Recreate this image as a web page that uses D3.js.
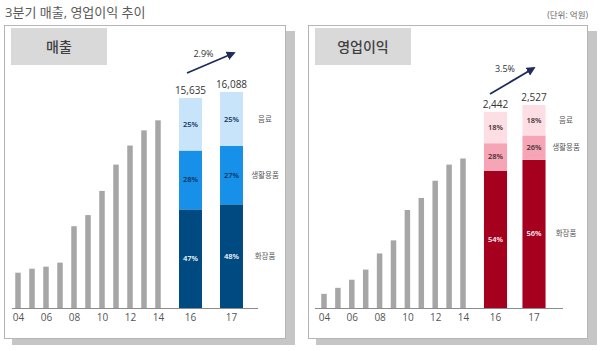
<!DOCTYPE html>
<html lang="ko">
<head>
<meta charset="utf-8">
<title>3분기 매출, 영업이익 추이</title>
<script src="https://d3js.org/d3.v7.min.js"></script>
<style>
  body { margin: 0; background: #fff; }
  text { font-family: "Open Sans", "Noto Sans CJK KR", sans-serif; }
</style>
</head>
<body>
<script>
// data (억원)
var histYears = [4, 5, 6, 7, 8, 9, 10, 11, 12, 13, 14]
var salesHist = [2630, 2930, 3080, 3380, 6090, 6920, 8720, 10680, 12100, 13230, 13980]
var opHist = [176, 251, 352, 478, 679, 842, 1220, 1370, 1584, 1785, 1861]

var recentYears = ["16", "17"]
var salesTotal = [15635, 16088]
var opTotal = [2442, 2527]

// stack order: bottom -> top
var segNames = ["화장품", "생활용품", "음료"]
var salesPct = [[47, 28, 25], [48, 27, 25]]
var opPct = [[54, 28, 18], [56, 26, 18]]
// share of bar height as drawn in the original (the 영업이익 bars are not drawn to their labels)
var salesShown = [[47, 28, 25], [48, 27, 25]]
var opShown = [[70, 14, 16], [73, 12, 15]]

var growth = ["2.9%", "3.5%"]
var axisTicks = [4, 6, 8, 10, 12, 14]

var w = 600, h = 351
var base = 308

var svg = d3.select("body").append("svg")
  .attr("width", w).attr("height", h)

svg.append("defs").append("marker")
  .attr("id", "arrowHead")
  .attr("viewBox", "0 0 10 10")
  .attr("refX", 8).attr("refY", 5)
  .attr("markerWidth", 5).attr("markerHeight", 5)
  .attr("orient", "auto")
  .append("path")
  .attr("d", "M0,0 L10,5 L0,10 z")
  .attr("fill", "#1f2c5c")

// title
svg.append("text")
  .attr("x", 5).attr("y", 17)
  .attr("font-size", 13)
  .attr("fill", "#595959")
  .text("3분기 매출, 영업이익 추이")

svg.append("text")
  .attr("x", 588).attr("y", 18)
  .attr("text-anchor", "end")
  .attr("font-size", 8.5)
  .attr("fill", "#666")
  .text("(단위: 억원)")

var panels = [
  { name: "매출", x0: 4, x1: 285, hist: salesHist, total: salesTotal, pct: salesPct, shown: salesShown,
    yTop: 92, histX: [18, 158], band: [170, 252], pad: 0.44, axis: [12, 258], legX: 265,
    colors: ["#004a82", "#1790ea", "#c7e4fb"], pctColors: ["#fff", "#0d2f55", "#0d2f55"],
    arrow: [[187, 73], [234, 53]], growth: growth[0] },
  { name: "영업이익", x0: 308, x1: 587, hist: opHist, total: opTotal, pct: opPct, shown: opShown,
    yTop: 105, histX: [324, 463], band: [476.25, 553.25], pad: 0.4, axis: [315, 563], legX: 566,
    colors: ["#a6001f", "#f6a5b7", "#fddee4"], pctColors: ["#fff", "#3a2a2a", "#3a2a2a"],
    arrow: [[490, 94], [534, 68]], growth: growth[1] }
]

panels.forEach(function(p) {
  var g = svg.append("g")

  // shadow + box
  g.append("rect")
    .attr("x", p.x0 + 8).attr("y", 31)
    .attr("width", p.x1 - p.x0 + 2).attr("height", 314)
    .attr("fill", "#c6c6c6")
  g.append("rect")
    .attr("x", p.x0 + 0.5).attr("y", 25.5)
    .attr("width", p.x1 - p.x0).attr("height", 313)
    .attr("fill", "#fff")
    .attr("stroke", "#b5b5b5")

  // header
  g.append("rect")
    .attr("x", p.x0 + 7).attr("y", 28)
    .attr("width", 96).attr("height", 37)
    .attr("fill", "#d9d9d9")
  g.append("text")
    .attr("x", p.x0 + 55).attr("y", 52)
    .attr("text-anchor", "middle")
    .attr("font-size", 14)
    .attr("font-weight", 500)
    .attr("fill", "#404040")
    .text(p.name)

  // scales
  var yScale = d3.scaleLinear()
    .domain([0, p.total[1]])
    .range([base, p.yTop])

  var xHist = d3.scaleLinear()
    .domain([4, 14])
    .range(p.histX)

  var xBand = d3.scaleBand()
    .domain(recentYears)
    .range(p.band)
    .paddingInner(p.pad)
    .paddingOuter(p.pad / 2)

  // gray history bars
  g.selectAll(".hist")
    .data(p.hist)
    .enter()
    .append("rect")
    .attr("class", "hist")
    .attr("x", function(d, i) { return xHist(histYears[i]) - 2.75 })
    .attr("y", function(d) { return yScale(d) })
    .attr("width", 5.5)
    .attr("height", function(d) { return base - yScale(d) })
    .attr("fill", "#a6a6a6")

  // stacked bars
  recentYears.forEach(function(yr, i) {
    var tot = p.total[i]
    var acc = 0
    var segs = p.shown[i].map(function(s, k) {
      var v0 = acc
      acc += s
      return { k: k, v0: tot * v0 / 100, v1: tot * acc / 100, label: p.pct[i][k] + "%" }
    })

    g.selectAll(".seg" + i)
      .data(segs)
      .enter()
      .append("rect")
      .attr("x", xBand(yr))
      .attr("y", function(d) { return yScale(d.v1) })
      .attr("width", xBand.bandwidth())
      .attr("height", function(d) { return yScale(d.v0) - yScale(d.v1) })
      .attr("fill", function(d) { return p.colors[d.k] })

    g.selectAll(".segl" + i)
      .data(segs)
      .enter()
      .append("text")
      .attr("x", xBand(yr) + xBand.bandwidth() / 2)
      .attr("y", function(d) { return (yScale(d.v0) + yScale(d.v1)) / 2 + 2.5 })
      .attr("text-anchor", "middle")
      .attr("font-size", 7.5)
      .attr("font-weight", 600)
      .attr("fill", function(d) { return p.pctColors[d.k] })
      .text(function(d) { return d.label })

    g.append("text")
      .attr("x", xBand(yr) + xBand.bandwidth() / 2)
      .attr("y", yScale(tot) - 4)
      .attr("text-anchor", "middle")
      .attr("font-size", 10)
      .attr("fill", "#333")
      .text(d3.format(",")(tot))

    // legend next to the 17 bar
    if (i == 1) {
      g.selectAll(".leg")
        .data(segs)
        .enter()
        .append("text")
        .attr("x", p.legX)
        .attr("y", function(d) { return (yScale(d.v0) + yScale(d.v1)) / 2 + 2.5 })
        .attr("text-anchor", "middle")
        .attr("font-size", 7.5)
        .attr("fill", "#555")
        .text(function(d) { return segNames[d.k] })
    }
  })

  // axis line
  g.append("line")
    .attr("x1", p.axis[0]).attr("x2", p.axis[1])
    .attr("y1", base + 0.5).attr("y2", base + 0.5)
    .attr("stroke", "#8c8c8c")

  // axis labels
  var ax1 = g.append("g")
    .attr("transform", "translate(0," + (base + 3) + ")")
    .call(d3.axisBottom(xHist).tickValues(axisTicks).tickFormat(d3.format("02d")).tickSize(0))
  var ax2 = g.append("g")
    .attr("transform", "translate(0," + (base + 3) + ")")
    .call(d3.axisBottom(xBand).tickSize(0))
  ;[ax1, ax2].forEach(function(a) {
    a.select(".domain").remove()
    a.selectAll("text")
      .attr("font-size", 10)
      .attr("fill", "#555")
      .style("font-family", "'Open Sans', sans-serif")
  })

  // growth arrow
  g.append("line")
    .attr("x1", p.arrow[0][0]).attr("y1", p.arrow[0][1])
    .attr("x2", p.arrow[1][0]).attr("y2", p.arrow[1][1])
    .attr("stroke", "#1f2c5c")
    .attr("stroke-width", 1.8)
    .attr("marker-end", "url(#arrowHead)")
  g.append("text")
    .attr("x", (p.arrow[0][0] + p.arrow[1][0]) / 2 - 7)
    .attr("y", p.arrow[1][1] + 4)
    .attr("text-anchor", "middle")
    .attr("font-size", 9)
    .attr("fill", "#333")
    .text(p.growth)
})
</script>
</body>
</html>
